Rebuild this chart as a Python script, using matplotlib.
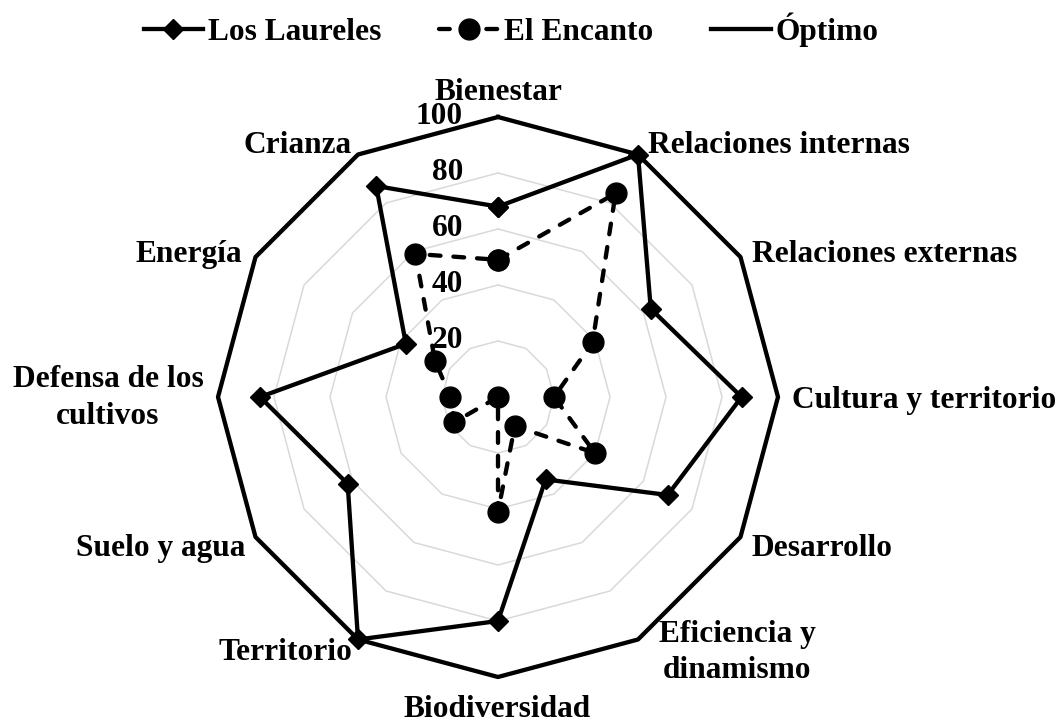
import numpy as np
import matplotlib
matplotlib.use("Agg")
import matplotlib.pyplot as plt
from matplotlib.transforms import offset_copy

# Data
categories = ['Bienestar', 'Relaciones internas', 'Relaciones externas',
              'Cultura y territorio', 'Desarrollo', 'Eficiencia y\ndinamismo',
              'Biodiversidad', 'Territorio', 'Suelo y agua',
              'Defensa de los\ncultivos', 'Energía', 'Crianza']
los_laureles = [68, 100, 63, 87, 70, 34, 80, 100, 62, 85, 38, 87]
el_encanto = [49, 84, 39, 20, 40, 12, 41, 0, 18, 17, 26, 59]
optimo = [100] * 12
ring_levels = [20, 40, 60, 80]
tick_labels = ['20', '40', '60', '80', '100']
tick_values = [20, 40, 60, 80, 100]

plt.rcParams['font.family'] = ['Liberation Serif', 'DejaVu Serif']
plt.rcParams['font.weight'] = 'bold'
FS = 22.6

W, H = 1062, 723
fig = plt.figure(figsize=(W / 100, H / 100), dpi=100)

# polar axes centred at (498, 397) px, radius 280 px
cx, cy, R = 498, 397, 280
ax = fig.add_axes([(cx - R) / W, (H - cy - R) / H, 2 * R / W, 2 * R / H],
                  projection='polar')
ax.set_theta_zero_location('N')
ax.set_theta_direction(-1)
ax.set_ylim(0, 100)
ax.set_xticks([])
ax.set_yticks([])
ax.grid(False)
ax.spines['polar'].set_visible(False)
ax.patch.set_visible(False)

n = len(categories)
theta = np.linspace(0, 2 * np.pi, n, endpoint=False)
theta_c = np.append(theta, theta[0])


def closed(vals):
    return np.append(vals, vals[0])


# gray polygon rings
for lv in ring_levels:
    ax.plot(theta_c, [lv] * (n + 1), color='#d9d9d9', lw=1.1, zorder=1)

ax.plot(theta_c, closed(los_laureles), color='black', lw=3.1, marker='D',
        markersize=10, label='Los Laureles', zorder=3, clip_on=False)
ax.plot(theta_c, closed(el_encanto), color='black', lw=3.1, marker='o',
        markersize=15, linestyle=(0, (2.5, 3)), dash_capstyle='round',
        label='El Encanto', zorder=4, clip_on=False)
ax.plot(theta_c, closed(optimo), color='black', lw=3.1, label='Óptimo',
        zorder=5, clip_on=False)

# radial tick labels left of the top axis
trans = offset_copy(ax.transData, fig=fig, x=-35, y=0, units='dots')
for v, t in zip(tick_values, tick_labels):
    ax.text(0, v, t, transform=trans, ha='right', va='center',
            fontsize=FS, fontweight='bold', zorder=6)


def px(x, y):
    return x / W, 1 - y / H


# category labels (x, baseline y, alignment)
label_pos = [
    ('Bienestar', 498, 100, 'center'),
    ('Relaciones internas', 648, 153, 'left'),
    ('Relaciones externas', 752, 262, 'left'),
    ('Cultura y territorio', 792, 408, 'left'),
    ('Desarrollo', 752, 556, 'left'),
    ('Eficiencia y', 737, 642, 'center'),
    ('dinamismo', 737, 678, 'center'),
    ('Biodiversidad', 497, 717, 'center'),
    ('Territorio', 352, 660, 'right'),
    ('Suelo y agua', 245, 556, 'right'),
    ('Defensa de los', 108, 387, 'center'),
    ('cultivos', 108, 424, 'center'),
    ('Energía', 242, 262, 'right'),
    ('Crianza', 352, 153, 'right'),
]
for txt, x, y, ha in label_pos:
    fig.text(*px(x, y), txt, ha=ha, va='baseline', fontsize=FS,
             fontweight='bold')

fig.legend(loc='center', bbox_to_anchor=px(511, 30), ncol=3, frameon=False,
           handlelength=1.9, handletextpad=0.15,
           columnspacing=1.85, borderaxespad=0, prop={'weight': 'bold', 'size': FS})

fig.savefig('out.png', dpi=100)
